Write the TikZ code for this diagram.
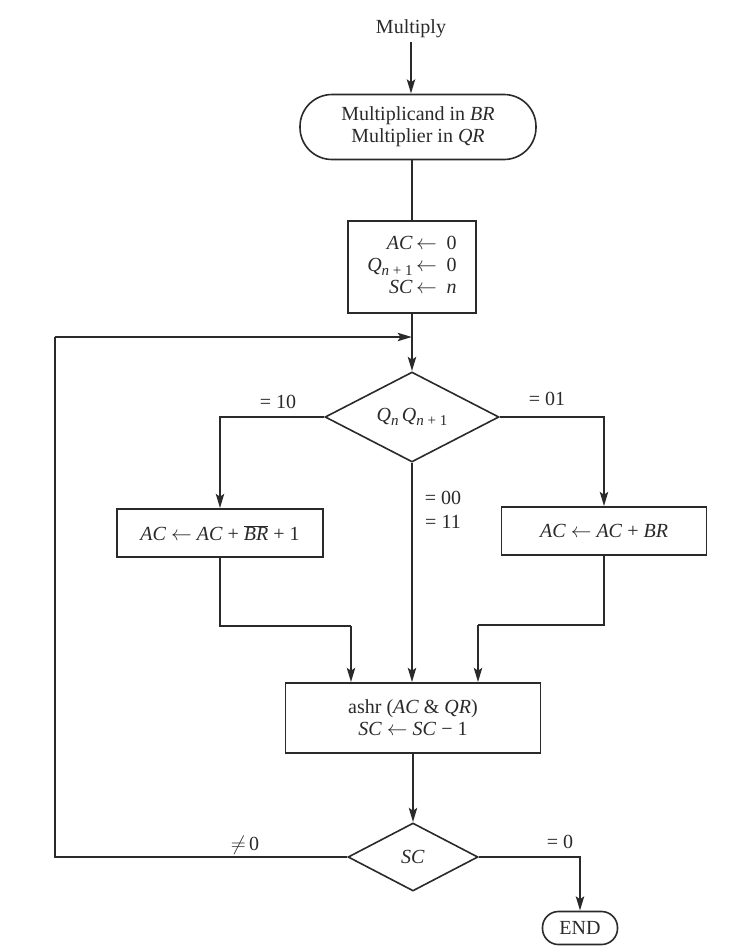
\documentclass[tikz,border=0pt]{standalone}
\usepackage{fontspec}
\setmainfont{Liberation Serif}
\usetikzlibrary{shapes.geometric,arrows.meta}
\definecolor{ink}{HTML}{2A2A2A}
\newcommand{\sub}[1]{\raisebox{-0.45ex}{\fontsize{15}{15}\selectfont #1}}
\newcommand{\larr}{\ensuremath{\leftarrow}}
\begin{document}
\begin{tikzpicture}[x=1pt,y=-1pt,
  every node/.style={font=\fontsize{20}{22}\selectfont, text=ink},
  boxnode/.style={draw=ink, line width=1.6pt, rectangle, inner sep=0pt, align=center},
  termnode/.style={draw=ink, line width=1.6pt, rectangle, rounded corners=#1, inner sep=0pt, align=center},
  decnode/.style={draw=ink, line width=1.6pt, diamond, inner sep=0pt},
  flow/.style={draw=ink, line width=2.8pt},
  arr/.style={flow, -{Stealth[length=14pt,width=8pt,inset=2.5pt]}},
  lbl/.style={inner sep=0pt}
]
\useasboundingbox (0,0) rectangle (729,946);
\fill[white] (0,0) rectangle (729,946);

\node[lbl] (mult) at (411,29) {Multiply};
\node[termnode=32pt, minimum width=236pt, minimum height=65pt] (start) at (418,127)
  {Multiplicand in \textit{BR}\\Multiplier in \textit{QR}};
\node[boxnode, minimum width=128pt, minimum height=92pt] (init) at (412,267)
  {\begin{tabular}{@{}r@{\,}l@{}}\textit{AC} & \larr\ \ 0\\[0pt]\textit{Q}\sub{\textit{n} + 1} & \larr\ \ 0\\\textit{SC} & \larr\ \ \textit{n}\end{tabular}};
\node[decnode, minimum width=174pt, minimum height=90pt] (d1) at (412,417)
  {\textit{Q}\sub{\textit{n}}\,\textit{Q}\sub{\textit{n} + 1}};
\node[boxnode, minimum width=206pt, minimum height=48pt] (bleft) at (220,533)
  {\textit{AC} \larr\ \textit{AC} + $\overline{\mbox{\textit{BR}}}$ + 1};
\node[boxnode, minimum width=205pt, minimum height=48pt] (bright) at (604,531)
  {\textit{AC} \larr\ \textit{AC} + \textit{BR}};
\node[boxnode, minimum width=255pt, minimum height=70pt] (ashr) at (413,718)
  {ashr (\textit{AC} \& \textit{QR})\\\textit{SC} \larr\ \textit{SC} − 1};
\node[decnode, minimum width=130pt, minimum height=68pt] (d2) at (413,857) {\textit{SC}};
\node[termnode=16pt, minimum width=75pt, minimum height=33pt] (end) at (580,928) {END};

\node[lbl] (l10) at (278,402) {= 10};
\node[lbl] (l01) at (547,399) {= 01};
\node[lbl] (l00) at (443,498) {= 00};
\node[lbl] (l11) at (443,522) {= 11};
\node[lbl] (lne) at (245,845) {$\neq$\,0};
\node[lbl] (leq) at (560,842) {= 0};

\coordinate (loopc) at (55,337);
\coordinate (merge) at (412,337);
\coordinate (j1) at (351,626);
\coordinate (j2) at (478,625);

\draw[arr] ([yshift=-4pt]mult.south) -- (mult.south |- start.north);
\draw[flow] (start.south -| init.north) -- (init.north);
\draw[arr] (init.south) -- (d1.north);
\draw[arr] (d1.west) -| (bleft.north);
\draw[arr] (d1.east) -| (bright.north);
\draw[arr] (d1.south) -- (d1.south |- ashr.north);
\draw[flow] (bleft.south) |- (j1);
\draw[arr] (j1) -- (j1 |- ashr.north);
\draw[flow] (bright.south) |- (j2);
\draw[arr] (j2) -- (j2 |- ashr.north);
\draw[arr] (ashr.south) -- (d2.north);
\draw[arr] (d2.east) -| (end.north);
\draw[flow] (d2.west) -| (loopc);
\draw[arr] (loopc) -- (merge);
\end{tikzpicture}
\end{document}
